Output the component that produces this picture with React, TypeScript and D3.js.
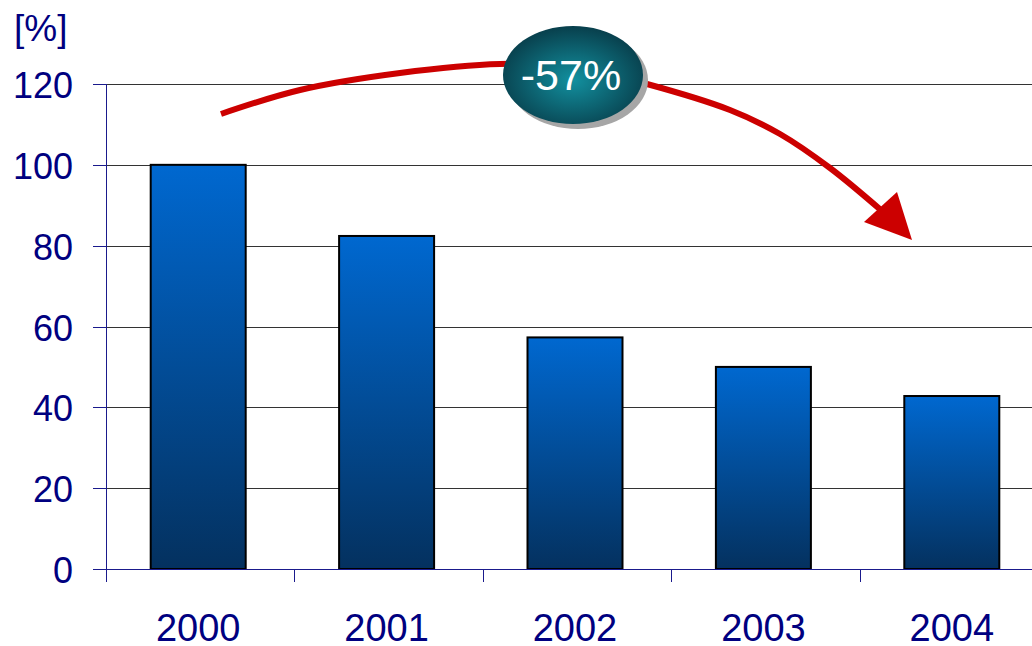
import React from "react";
import * as d3 from "d3";

const years = ["2000", "2001", "2002", "2003", "2004"];
const values = [100, 82.4, 57.3, 50, 42.8];
const yTicks = [0, 20, 40, 60, 80, 100, 120];
const changeLabel = "-57%";
const unitLabel = "[%]";
// annotation arrow path waypoints (pixel space)
const arrowPts: [number, number][] = [
  [221, 114], [300, 90], [400, 73], [500, 64], [575, 67], [647, 84],
  [730, 110], [780, 134], [830, 168], [882, 211],
];

export default function App() {
  const W = 1032, H = 646;
  const x = d3.scaleBand<string>().domain(years).range([106, 1048]).paddingInner(0).paddingOuter(0);
  const y = d3.scaleLinear().domain([0, 120]).range([569, 84]);
  const bw = 95;
  const navy = "#000080";
  const axisCol = "#1a1a8c";
  const font = "'Liberation Sans', Arial, sans-serif";
  const arrowLine = d3.line().curve(d3.curveCatmullRom.alpha(0.5))(arrowPts) || "";
  return (
    <div style={{ position: "absolute", left: 0, top: 0 }}>
      <svg width={W} height={H} style={{ display: "block" }}>
        <defs>
          <linearGradient id="barGrad" x1="0" y1="0" x2="0" y2="1">
            <stop offset="0" stopColor="#0068d0" />
            <stop offset="1" stopColor="#04315f" />
          </linearGradient>
          <radialGradient id="ellGrad" cx="0.5" cy="0.55" r="0.55">
            <stop offset="0" stopColor="#12909f" />
            <stop offset="1" stopColor="#083f4c" />
          </radialGradient>
        </defs>
        <rect width={W} height={H} fill="#fff" />
        {yTicks.filter(t => t > 0).map(t => (
          <line key={t} x1={106} x2={W} y1={Math.round(y(t)) + 0.5} y2={Math.round(y(t)) + 0.5} stroke="#333" strokeWidth={1} />
        ))}
        {years.map((yr, i) => {
          const cx = (x(yr) as number) + x.bandwidth() / 2 - 2;
          return (
            <rect key={yr} x={cx - bw / 2} y={y(values[i])} width={bw} height={y(0) - y(values[i])}
              fill="url(#barGrad)" stroke="#000" strokeWidth={2} />
          );
        })}
        <line x1={106.5} x2={106.5} y1={84} y2={569} stroke={axisCol} strokeWidth={1} />
        {yTicks.map(t => (
          <g key={t}>
            <line x1={93} x2={106} y1={Math.round(y(t)) + 0.5} y2={Math.round(y(t)) + 0.5} stroke={axisCol} />
            <text x={73} y={y(t) + 14} textAnchor="end" fontFamily={font} fontSize={36} fill={navy}>{t}</text>
          </g>
        ))}
        <line x1={93} x2={W} y1={569.5} y2={569.5} stroke={axisCol} />
        {years.map(yr => (
          <line key={yr} x1={Math.round(x(yr) as number) + 0.5} x2={Math.round(x(yr) as number) + 0.5} y1={569} y2={582} stroke={axisCol} />
        ))}
        {years.map(yr => (
          <text key={yr} x={(x(yr) as number) + x.bandwidth() / 2 - 2} y={641} textAnchor="middle" fontFamily={font} fontSize={38} fill={navy}>{yr}</text>
        ))}
        <text x={14} y={41} fontFamily={font} fontSize={37} fill={navy}>{unitLabel}</text>
        <path d={arrowLine} fill="none" stroke="#cc0000" strokeWidth={6} />
        <polygon points="864,222 897,192 912,240" fill="#cc0000" />
        <ellipse cx={578} cy={80} rx={70} ry={49} fill="#a6a6a6" />
        <ellipse cx={573} cy={75} rx={70} ry={49} fill="url(#ellGrad)" />
        <text x={571} y={90} textAnchor="middle" fontFamily={font} fontSize={43} fill="#fff">{changeLabel}</text>
      </svg>
    </div>
  );
}
